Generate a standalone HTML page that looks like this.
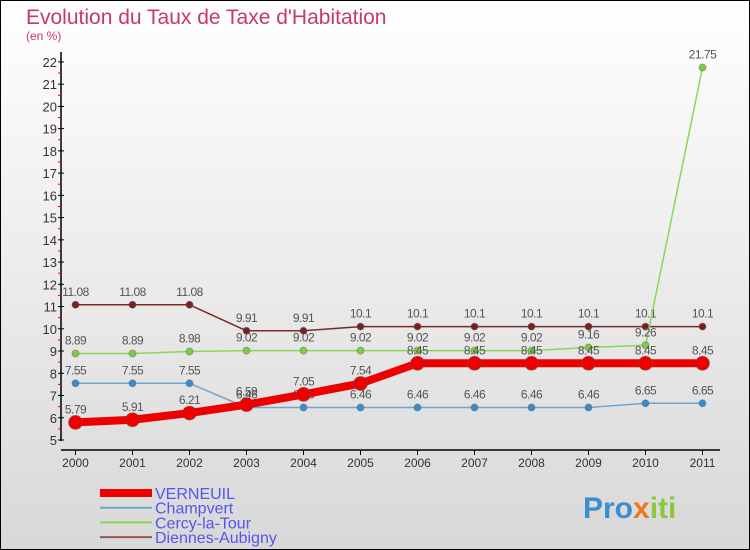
<!DOCTYPE html>
<html><head><meta charset="utf-8"><style>
body{margin:0}
#c{width:750px;height:550px;position:relative;box-sizing:border-box;border:1px solid #000;background:linear-gradient(#fff,#d8d8d8);font-family:"Liberation Sans",sans-serif;overflow:hidden}
</style></head><body>
<div id="c">
<svg id="s" width="750" height="550" style="position:absolute;left:-1px;top:-1px">
<text x="26" y="24" font-size="21" fill="#c8386a">Evolution du Taux de Taxe d'Habitation</text>
<text x="26" y="40" font-size="12" fill="#c8386a">(en %)</text>
<g id="g"></g>
<text x="583" y="518" font-size="30" font-weight="bold"><tspan fill="#3a8fd0">Pro</tspan><tspan fill="#e87a1a">x</tspan><tspan fill="#8cc63f">iti</tspan></text>
</svg>
</div>
<script>
const years=["2000","2001","2002","2003","2004","2005","2006","2007","2008","2009","2010","2011"];
const verneuil=[5.79,5.91,6.21,6.59,7.05,7.54,8.45,8.45,8.45,8.45,8.45,8.45];
const champvert=[7.55,7.55,7.55,6.46,6.46,6.46,6.46,6.46,6.46,6.46,6.65,6.65];
const cercy=[8.89,8.89,8.98,9.02,9.02,9.02,9.02,9.02,9.02,9.16,9.26,21.75];
const diennes=[11.08,11.08,11.08,9.91,9.91,10.1,10.1,10.1,10.1,10.1,10.1,10.1];
const yTicks=[5,6,7,8,9,10,11,12,13,14,15,16,17,18,19,20,21,22];
const NS="http://www.w3.org/2000/svg";
const g=document.getElementById('g');
const X=i=>75.5+i*57;
const Y=v=>440-(v-5)*22.24;
function mk(t,a,p){const e=document.createElementNS(NS,t);for(const k in a)e.setAttribute(k,a[k]);(p||g).appendChild(e);return e;}
let ax=mk('line',{x1:61,y1:52,x2:61,y2:441,stroke:'#000','stroke-width':1.5});


let xa=mk('line',{x1:61,y1:450,x2:720,y2:450,stroke:'#000','stroke-width':1.5});


yTicks.forEach(v=>{
 mk('line',{x1:58,y1:Y(v),x2:64,y2:Y(v),stroke:'#000'});
 if(v<22)mk('line',{x1:58,y1:Y(v+0.5),x2:61,y2:Y(v+0.5),stroke:'#e00'});
 const t=mk('text',{x:57,y:Y(v)+5,'font-size':13,fill:'#333','text-anchor':'end'});t.textContent=v;
 
 
});
years.forEach((y,i)=>{
 mk('line',{x1:X(i),y1:450,x2:X(i),y2:455,stroke:'#000'});
 const t=mk('text',{x:X(i),y:467,'font-size':12,fill:'#333','text-anchor':'middle'});t.textContent=y;
 
 
});
const series=[
 {d:diennes,c:'#7a2a2a',f:'#7a2020',w:1.5,r:3.5,n:'diennes-aubigny'},
 {d:cercy,c:'#88d858',f:'#7ccc44',w:1.5,r:3.5,n:'cercy-la-tour'},
 {d:champvert,c:'#6fa6d0',f:'#3a8ccc',w:1.5,r:3.5,n:'champvert'},
 {d:verneuil,c:'#ee0000',f:'#e00',w:8,r:7,n:'verneuil'}];
series.forEach(s=>{
 const p=mk('polyline',{points:s.d.map((v,i)=>X(i)+','+Y(v)).join(' '),fill:'none',stroke:s.c,'stroke-width':s.w,'stroke-linejoin':'round'});
 
 
 s.d.forEach((v,i)=>{
  const c=mk('circle',{cx:X(i),cy:Y(v),r:s.r,fill:s.f,stroke:'#555','stroke-opacity':0.4});
  
  
  const t=mk('text',{x:X(i),y:Y(v)-9,'font-size':12,fill:'#555','text-anchor':'middle','letter-spacing':'-0.5'});
  t.textContent=v;
  
  
 });
});
const leg=[['VERNEUIL','#ee0000',8],['Champvert','#6fa6d0',2],['Cercy-la-Tour','#88d858',2],['Diennes-Aubigny','#955',2]];
leg.forEach((l,i)=>{
 const yy=493+i*14.7;
 const ln=mk('line',{x1:100,y1:yy,x2:152,y2:yy,stroke:l[1],'stroke-width':l[2]});
 
 
 const t=mk('text',{x:155,y:yy+6,'font-size':16,fill:'#5555ee'});t.textContent=l[0];
 
 
});
</script>
</body></html>
